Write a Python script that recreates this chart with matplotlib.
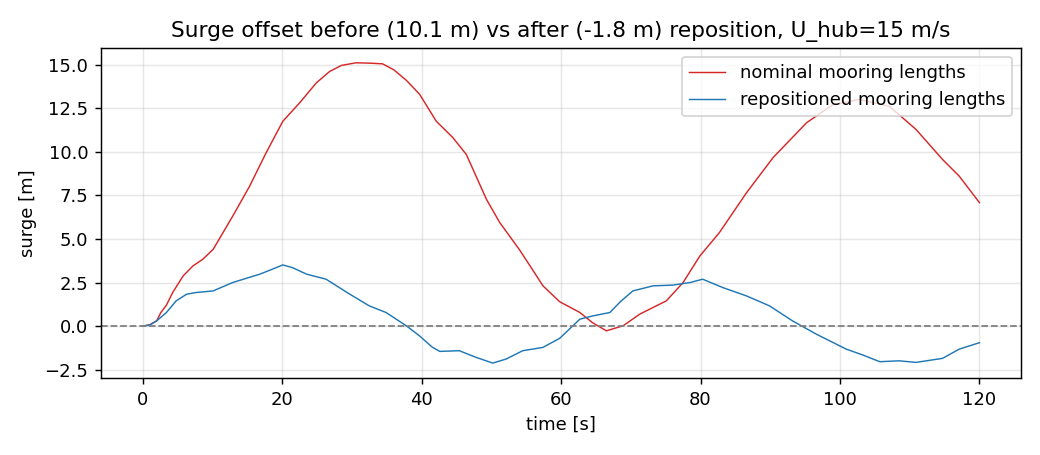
import numpy as np
import matplotlib.pyplot as plt

# values
t_nom = [0, 1.0, 2.0, 2.6, 3.4, 4.3, 5.8, 7.2, 8.6, 10.1, 12.9, 15.3, 17.7, 20.1, 22.5,
         24.9, 26.8, 28.5, 30.6, 32.5, 34.4, 36.0, 37.8, 39.7, 42.1, 44.5, 46.4, 49.3,
         51.2, 54.0, 55.8, 57.4, 59.8, 62.7, 64.5, 66.5, 68.9, 71.3, 75.1, 77.5, 79.9,
         82.7, 86.6, 90.4, 95.2, 99.0, 102.8, 107.1, 110.9, 114.7, 117.1, 120]
surge_nom = [0, 0.08, 0.3, 0.78, 1.2, 1.93, 2.88, 3.45, 3.83, 4.4, 6.3, 8.0, 9.94, 11.75, 12.8,
             13.95, 14.6, 14.95, 15.1, 15.08, 15.04, 14.7, 14.1, 13.3, 11.75, 10.8, 9.85, 7.27,
             5.94, 4.4, 3.3, 2.31, 1.4, 0.78, 0.2, -0.27, 0.02, 0.69, 1.45, 2.5, 4.02,
             5.36, 7.65, 9.66, 11.66, 12.7, 13.0, 12.6, 11.28, 9.56, 8.6, 7.08]

t_rep = [0, 1.0, 2.0, 3.4, 4.8, 6.3, 7.7, 8.6, 10.1, 12.9, 16.8, 18.5, 20.1, 21.5,
         23.5, 26.3, 29.7, 32.5, 34.9, 37.8, 39.7, 41.5, 42.6, 45.4, 47.8, 50.2, 52.1,
         54.5, 57.4, 59.8, 62.7, 64.6, 67.0, 68.5, 70.3, 73.2, 76.0, 78.5, 80.3, 83.2,
         86.6, 89.9, 93.2, 96.6, 100.9, 103.3, 105.7, 108.5, 110.9, 114.7, 117.1, 120]
surge_rep = [0, 0.06, 0.3, 0.78, 1.45, 1.83, 1.93, 1.96, 2.02, 2.5, 2.98, 3.25, 3.51, 3.35,
             2.98, 2.69, 1.83, 1.16, 0.78, 0.02, -0.56, -1.2, -1.45, -1.41, -1.79, -2.12, -1.89,
             -1.41, -1.22, -0.7, 0.4, 0.59, 0.78, 1.4, 2.02, 2.31, 2.35, 2.5, 2.69, 2.21,
             1.73, 1.16, 0.3, -0.46, -1.32, -1.66, -2.04, -1.99, -2.08, -1.85, -1.32, -0.95]

fig, ax = plt.subplots(figsize=(8, 3.5), dpi=130)
ax.plot(t_nom, surge_nom, color='tab:red', lw=0.8, label='nominal mooring lengths')
ax.plot(t_rep, surge_rep, color='tab:blue', lw=0.8, label='repositioned mooring lengths')
ax.axhline(0, color='gray', ls='--', lw=1)
ax.set_xlabel('time [s]')
ax.set_ylabel('surge [m]')
ax.set_title('Surge offset before (10.1 m) vs after (-1.8 m) reposition, U_hub=15 m/s')
ax.grid(alpha=0.3)
ax.legend(loc='upper right')
fig.subplots_adjust(left=0.097, right=0.982, top=0.895, bottom=0.169)
fig.savefig('out.png', dpi=130)
